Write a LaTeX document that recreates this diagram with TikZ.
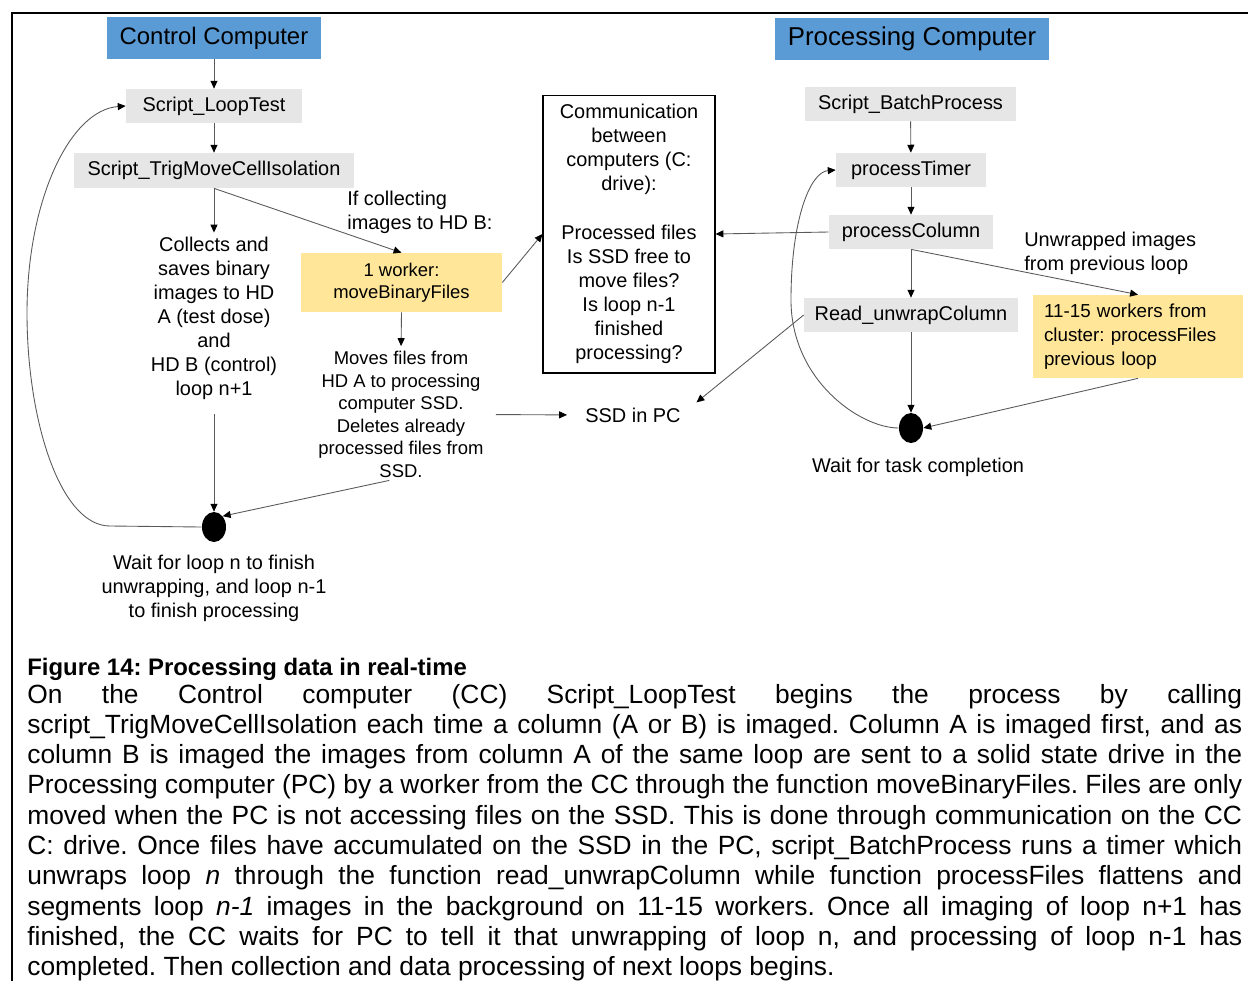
\documentclass[tikz,border=0pt]{standalone}
\usepackage{fontspec}
\setmainfont{Liberation Sans}
\usepackage{tikz}
\usetikzlibrary{arrows.meta,shapes.geometric}
\definecolor{hdrblue}{HTML}{5B9BD5}
\definecolor{boxgray}{HTML}{E7E6E6}
\definecolor{wrkyellow}{HTML}{FFE699}
\definecolor{lngray}{HTML}{595959}
\tolerance=9999
\hyphenpenalty=10000
\frenchspacing

\begin{document}
\begin{tikzpicture}[x=0.02cm,y=-0.02cm,
 fnt/.style={font=\fontsize{11.34pt}{13.72pt}\selectfont},
 sfnt/.style={font=\fontsize{10.5pt}{12.81pt}\selectfont},
 hdr/.style={fill=hdrblue,inner sep=0pt,minimum height=0.84cm},
 scr/.style={fill=boxgray,fnt,inner sep=0pt,minimum height=0.68cm},
 wrk/.style={fill=wrkyellow,sfnt,inner sep=0pt},
 lbl/.style={fnt,align=center,inner sep=0pt},
 dot/.style={ellipse,fill=black,inner sep=0pt,minimum width=0.48cm,minimum height=0.6cm},
 con/.style={draw=lngray,line width=0.5pt,-{Triangle[length=4.5pt,width=4pt,black]}}]
\useasboundingbox (0,0) rectangle (1248,981);
\draw[line width=1.3pt](12,981)--(12,13)--(1248,13);

\node[hdr,minimum width=4.28cm,font=\fontsize{13.6pt}{16pt}\selectfont] (cc) at (214,38) {Control Computer};
\node[hdr,minimum width=5.48cm,font=\fontsize{14.7pt}{17pt}\selectfont] (pc) at (912,39) {Processing Computer};
\node[scr,minimum width=3.52cm] (loop) at (214,106) {Script\_LoopTest};
\node[scr,minimum width=5.6cm,minimum height=0.7cm] (trig) at (214,170.5) {Script\_TrigMoveCellIsolation};
\node[lbl,align=left,anchor=west] (ifhd) at (347,212) {If collecting\\images to HD B:};
\node[lbl] (collects) at (214,318.5) {Collects and\\saves binary\\images to HD\\A (test dose)\\and\\HD B (control)\\loop n+1};
\node[wrk,minimum width=4.02cm,minimum height=1.18cm,align=center] (mov) at (401.5,282.5) {1 worker:\\moveBinaryFiles};
\node[lbl,sfnt] (moves) at (401,414.5) {Moves files from\\HD A to processing\\computer SSD.\\Deletes already\\processed files from\\SSD.};
\node[draw,lbl,minimum width=3.44cm,minimum height=5.56cm,line width=0.6pt] (comm) at (629,234) {Communication\\between\\computers (C:\\drive):\\[13.72pt]Processed files\\Is SSD free to\\move files?\\Is loop n-1\\finished\\processing?};
\node[lbl] (ssd) at (633,415) {SSD in PC};
\node[dot] (waitL) at (214,527) {};
\node[lbl] (waitLtxt) at (214,588) {Wait for loop n to finish\\unwrapping, and loop n-1\\to finish processing};

\node[scr,minimum width=4.22cm] (batch) at (910.5,104) {Script\_BatchProcess};
\node[scr,minimum width=3cm] (timer) at (911,170) {processTimer};
\node[scr,minimum width=3.28cm] (col) at (911,232) {processColumn};
\node[scr,minimum width=4.28cm] (unwrap) at (911,315) {Read\_unwrapColumn};
\node[lbl,align=left,anchor=west] (unwtxt) at (1024,253) {Unwrapped images\\from previous loop};
\node[wrk,minimum width=4.2cm,minimum height=1.66cm,text width=3.76cm,align=left,font=\fontsize{10.7pt}{13.6pt}\selectfont] (proc) at (1138,336.5) {11-15 workers from\\cluster: processFiles\\previous loop};
\node[dot] (waitR) at (911,428) {};
\node[lbl] (waitRtxt) at (918,467) {Wait for task completion};

\draw[con](cc)--(loop);
\draw[con](loop)--(trig);
\draw[con,shorten >=0.08cm](trig.south)--(collects.north);
\draw[con](trig.south)--(mov.north);
\draw[con,shorten >=0.1cm](mov.south)--(moves.north);
\draw[con](mov.east)--(comm.west);
\draw[con](col.west)--(comm.east);
\draw[con,shorten <=0.28cm](collects.south)--(waitL.north);
\draw[con,shorten <=0.24cm](moves.south)--(waitL.north east);
\draw[con,shorten <=0.24cm,shorten >=0.36cm](moves.east)--(ssd.west);
\draw[con,shorten >=0.4cm](unwrap.west)--(ssd.east);
\draw[con](waitL.west)--(110,526) .. controls (60,526) and (27,420) .. (27,313)
 .. controls (27,200) and (70,110) .. (loop.west);

\draw[con](batch)--(timer);
\draw[con](timer)--(col);
\draw[con](col)--(unwrap);
\draw[con](unwrap)--(waitR);
\draw[con](col.south)--(proc.north);
\draw[con](proc.south)--(waitR.east);
\draw[con](waitR.west) .. controls (860,428) and (791,380) .. (791,300)
 .. controls (791,220) and (810,172) .. (timer.west);

\node[anchor=base west,inner sep=0pt,font=\bfseries\fontsize{13.6pt}{16pt}\selectfont] (figttl) at (27,675) {Figure 14: Processing data in real-time};
\node[anchor=base west,inner sep=0pt,text width=24.3cm,align=justify,font=\fontsize{15pt}{17.25pt}\selectfont] (figtxt) at (27,703) {On the Control computer (CC) Script\_LoopTest begins the process by calling\linebreak
script\_TrigMoveCellIsolation each time a column (A or B) is imaged. Column A is imaged first, and as\linebreak
column B is imaged the images from column A of the same loop are sent to a solid state drive in the\linebreak
Processing computer (PC) by a worker from the CC through the function moveBinaryFiles. Files are only\linebreak
moved when the PC is not accessing files on the SSD. This is done through communication on the CC\linebreak
C: drive. Once files have accumulated on the SSD in the PC, script\_BatchProcess runs a timer which\linebreak
unwraps loop \textit{n} through the function read\_unwrapColumn while function processFiles flattens and\linebreak
segments loop \textit{n-1} images in the background on 11-15 workers. Once all imaging of loop n+1 has\linebreak
finished, the CC waits for PC to tell it that unwrapping of loop n, and processing of loop n-1 has\linebreak
completed. Then collection and data processing of next loops begins.};
\end{tikzpicture}
\end{document}
